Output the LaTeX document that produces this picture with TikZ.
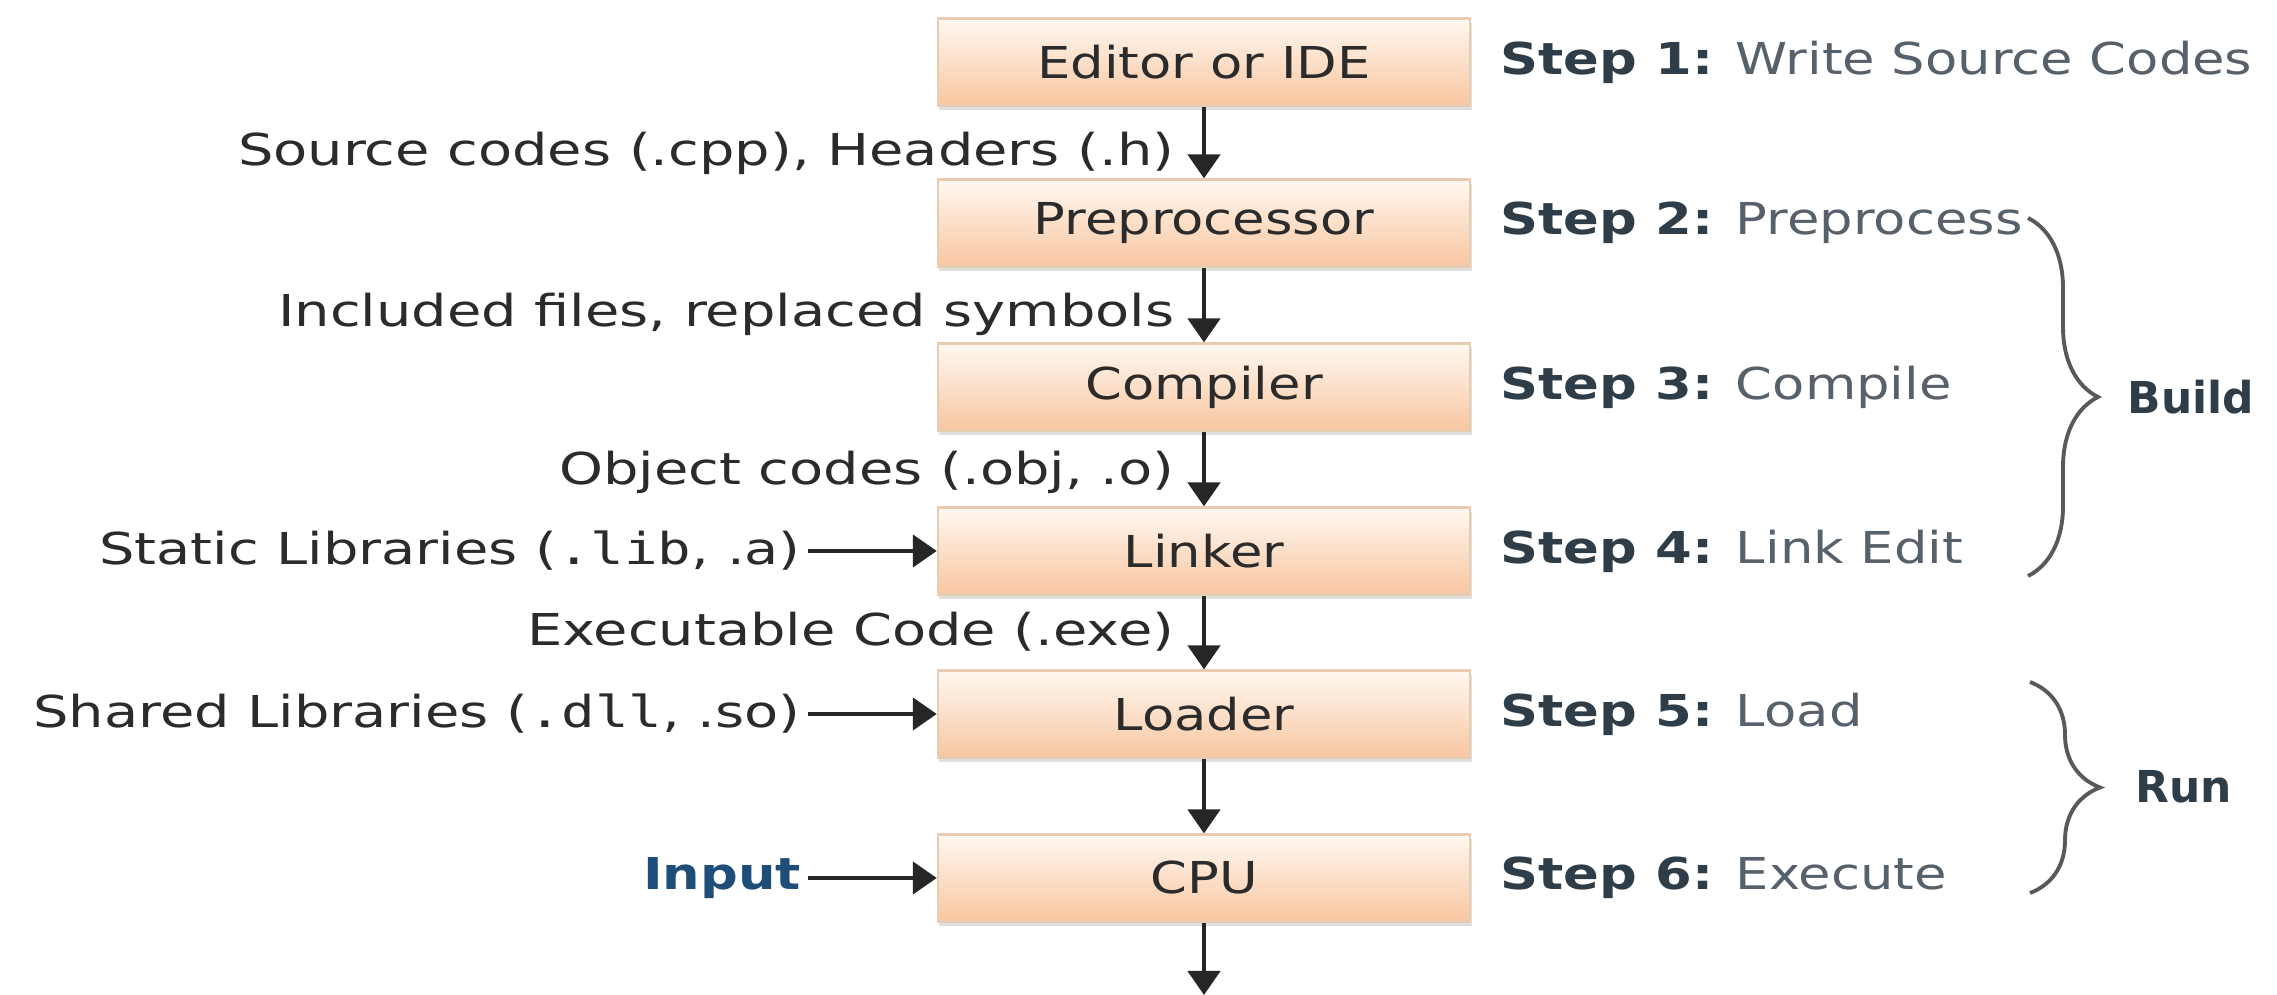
\documentclass[tikz,border=0pt]{standalone}
\usepackage{fontspec}
\setmainfont{DejaVu Sans}[FakeStretch=1.2]
\newfontfamily\widef{DejaVu Sans}[FakeStretch=1.27]
\newfontfamily\monof{DejaVu Sans Mono}[FakeStretch=1.27]
\newfontfamily\grpf{DejaVu Sans}[FakeStretch=1.0]
\usetikzlibrary{arrows.meta,decorations.pathreplacing,shadows}
\definecolor{boxtop}{HTML}{FFF8F1}
\definecolor{boxbot}{HTML}{F8C6A0}
\definecolor{boxline}{HTML}{E8CCB0}
\definecolor{txt}{HTML}{2B2B2B}
\definecolor{steptxt}{HTML}{2F3D48}
\definecolor{stepgray}{HTML}{56616B}
\definecolor{inblue}{HTML}{1E4D78}
\newcommand{\lblfont}{\fontsize{12.5pt}{15pt}\selectfont}
\tikzset{
  stagebox/.style={draw=boxline, line width=0.6pt, top color=boxtop, bottom color=boxbot,
    minimum width=5.32cm, minimum height=0.87cm, inner sep=0pt, font=\lblfont, text=txt,
    drop shadow={opacity=0.25, shadow xshift=0.4pt, shadow yshift=-1.2pt}},
  flow/.style={-{Triangle[width=0.32cm,length=0.24cm]}, line width=1.3pt, draw=black!85},
  arrlbl/.style={anchor=east, font=\widef\lblfont, text=txt, inner sep=0pt},
  sidelbl/.style={anchor=east, font=\widef\lblfont, text=txt, inner xsep=0.065cm, inner ysep=0pt},
  steplbl/.style={anchor=west, font=\lblfont, text=stepgray, inner sep=0pt},
  grplbl/.style={anchor=west, font=\grpf\lblfont\bfseries, text=steptxt, inner sep=0pt},
  bracestyle/.style={decorate, decoration={brace, amplitude=0.7cm}, line width=1.1pt, draw=black!65}
}
\begin{document}
\begin{tikzpicture}[x=0.01cm, y=-0.01cm]
\useasboundingbox[fill=white] (0,0) rectangle (2277,995);

% main stages
\node[stagebox] (ed)  at (1204,62)  {Editor or IDE};
\node[stagebox] (pp)  at (1204,223) {Preprocessor};
\node[stagebox] (cc)  at (1204,387) {Compiler};
\node[stagebox] (lk)  at (1204,551) {Linker};
\node[stagebox] (ld)  at (1204,714) {Loader};
\node[stagebox] (cpu) at (1204,878) {CPU};
\coordinate (out) at (1204,995);

% vertical flow
\draw[flow] (ed.south) -- (pp.north);
\draw[flow] (pp.south) -- (cc.north);
\draw[flow] (cc.south) -- (lk.north);
\draw[flow] (lk.south) -- (ld.north);
\draw[flow] (ld.south) -- (cpu.north);
\draw[flow] (cpu.south) -- (out);

% labels of the flow arrows
\node[arrlbl] (l1) at (1175,153) {Source codes (.cpp), Headers (.h)};
\node[arrlbl] (l2) at (1175,314) {Included files, replaced symbols};
\node[arrlbl] (l3) at (1175,472) {Object codes (.obj, .o)};
\node[arrlbl] (l4) at (1175,632) {Executable Code (.exe)};

% side inputs
\node[sidelbl] (sl) at (808,551) {Static Libraries ({\monof .lib}, .a)};
\node[sidelbl] (sh) at (808,714) {Shared Libraries ({\monof .dll}, .so)};
\node[sidelbl, font=\lblfont\bfseries, text=inblue] (in) at (808,878) {Input};
\draw[flow] (sl) -- (lk);
\draw[flow] (sh) -- (ld);
\draw[flow] (in) -- (cpu);

% step labels
\node[steplbl] (s1) at (1500,62)  {\textcolor{steptxt}{\bfseries Step 1:} Write Source Codes};
\node[steplbl] (s2) at (1500,223) {\textcolor{steptxt}{\bfseries Step 2:} Preprocess};
\node[steplbl] (s3) at (1500,387) {\textcolor{steptxt}{\bfseries Step 3:} Compile};
\node[steplbl] (s4) at (1500,551) {\textcolor{steptxt}{\bfseries Step 4:} Link Edit};
\node[steplbl] (s5) at (1500,714) {\textcolor{steptxt}{\bfseries Step 5:} Load};
\node[steplbl] (s6) at (1500,878) {\textcolor{steptxt}{\bfseries Step 6:} Execute};

% braces
\coordinate (b1) at (2028,218);
\coordinate (b2) at (2028,576);
\coordinate (r1) at (2030,682);
\coordinate (r2) at (2030,893);
\draw[bracestyle] (b1) -- (b2);
\draw[bracestyle] (r1) -- (r2);
\node[grplbl] (build) at (2127,397) {Build};
\node[grplbl] (run) at (2135,787) {Run};
\end{tikzpicture}
\end{document}
